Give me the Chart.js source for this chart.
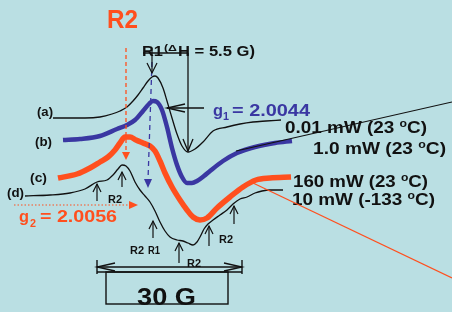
<!DOCTYPE html>
<html>
<head>
<meta charset="utf-8">
<script src="https://cdn.jsdelivr.net/npm/chart.js@4.4.0/dist/chart.umd.min.js"></script>
<style>
  body { margin: 0; background: #badfe3; }
  canvas { display: block; }
</style>
</head>
<body>
<canvas id="epr" width="452" height="312"></canvas>
<script>
// EPR derivative spectra (field position, signal in figure units)
const fieldA = [53, 70, 85, 100, 112, 120, 127, 133, 138, 143, 148, 152, 155, 158, 163, 167, 172, 177, 182, 188, 195, 203, 213, 227, 240, 253, 266, 281];
const signalA = [118, 118, 118, 117, 114, 111, 107, 101, 95, 88, 81, 77, 76, 78, 88, 101, 118, 134, 146, 152, 149, 142, 131, 127, 124, 122, 121, 120];

const fieldB = [63, 80, 100, 117, 127, 135, 143, 149, 153, 157, 162, 167, 172, 177, 182, 187, 192, 197, 204, 210, 223, 237, 255, 275, 292];
const signalB = [140, 139, 136, 129, 125, 120, 111, 104, 101, 102, 110, 127, 148, 165, 177, 183, 183, 181, 176, 171, 161, 153, 147, 143, 141];

const fieldC = [58, 77, 90, 100, 108, 115, 120, 125, 130, 136, 143, 150, 155, 160, 165, 172, 180, 187, 193, 200, 207, 217, 230, 243, 256, 270, 291];
const signalC = [178, 174, 168, 162, 157, 150, 143, 137, 137, 140, 143, 146, 151, 161, 173, 187, 200, 210, 217, 220, 218, 208, 197, 187, 180, 178, 177];

const fieldD = [25, 50, 70, 85, 97, 107, 113, 118, 122, 126, 130, 135, 140, 145, 150, 155, 160, 165, 170, 177, 183, 188, 193, 197, 200, 204, 208, 213, 220, 227, 233, 240, 247, 255, 262, 270, 283];
const signalD = [196, 195, 193, 189, 182, 180, 175, 169, 165, 166, 171, 182, 190, 196, 202, 211, 222, 231, 237, 240, 241, 243, 245, 242, 237, 229, 224, 220, 215, 210, 204, 199, 197, 193, 191, 190, 190];

const traceLabels = ["(a)", "(b)", "(c)", "(d)"];
const powerLabels = ["0.01 mW (23 ", "1.0 mW (23 ", "160 mW (23 ", "10 mW (-133 "];

const BLACK = "#111";
const BLUE = "#3a37a2";
const ORANGE = "#ff4f1e";
const FONT = '"Liberation Sans", Arial, sans-serif';

function pts(xs, ys) {
    return xs.map((x, i) => ({ x: x, y: ys[i] }));
}

const overlay = {
    id: "overlay",
    beforeDraw(chart) {
        const c = chart.ctx;
        c.save();
        c.fillStyle = "#badfe3";
        c.fillRect(0, 0, chart.width, chart.height);
        c.restore();
    },
    afterDatasetsDraw(chart) {
        const c = chart.ctx;
        const sx = chart.scales.x, sy = chart.scales.y;
        const X = v => sx.getPixelForValue(v);
        const Y = v => sy.getPixelForValue(v);

        function line(x1, y1, x2, y2, color, w, dash) {
            c.save();
            c.strokeStyle = color;
            c.lineWidth = w;
            c.setLineDash(dash || []);
            c.beginPath();
            c.moveTo(X(x1), Y(y1));
            c.lineTo(X(x2), Y(y2));
            c.stroke();
            c.restore();
        }
        // open "V" head at tip, pointing from (fx,fy) toward tip
        function vhead(tx, ty, fx, fy, len, half, color, w) {
            const a = Math.atan2(Y(ty) - Y(fy), X(tx) - X(fx));
            c.save();
            c.strokeStyle = color;
            c.lineWidth = w;
            c.beginPath();
            c.moveTo(X(tx) - len * Math.cos(a) - half * Math.sin(a), Y(ty) - len * Math.sin(a) + half * Math.cos(a));
            c.lineTo(X(tx), Y(ty));
            c.lineTo(X(tx) - len * Math.cos(a) + half * Math.sin(a), Y(ty) - len * Math.sin(a) - half * Math.cos(a));
            c.stroke();
            c.restore();
        }
        function fhead(tx, ty, fx, fy, len, half, color) {
            const a = Math.atan2(Y(ty) - Y(fy), X(tx) - X(fx));
            c.save();
            c.fillStyle = color;
            c.beginPath();
            c.moveTo(X(tx), Y(ty));
            c.lineTo(X(tx) - len * Math.cos(a) - half * Math.sin(a), Y(ty) - len * Math.sin(a) + half * Math.cos(a));
            c.lineTo(X(tx) - len * Math.cos(a) + half * Math.sin(a), Y(ty) - len * Math.sin(a) - half * Math.cos(a));
            c.closePath();
            c.fill();
            c.restore();
        }
        // parts: [text, size, raise]; squeezed / stretched to width w
        function rich(parts, x, y, w, color) {
            let total = 0;
            parts.forEach(p => {
                c.font = "bold " + p[1] + "px " + FONT;
                total += c.measureText(p[0]).width;
            });
            const k = w ? w / total : 1;
            c.save();
            c.translate(X(x), Y(y));
            c.scale(k, 1);
            c.fillStyle = color;
            let cx = 0;
            parts.forEach(p => {
                c.font = "bold " + p[1] + "px " + FONT;
                c.fillText(p[0], cx, p[2]);
                cx += c.measureText(p[0]).width;
            });
            c.restore();
        }

        // leader lines from traces to their power labels
        rich([[powerLabels[0], 17, 0], ["o", 11, -6], ["C)", 17, 0]], 285, 133, 142, BLACK);
        rich([[powerLabels[1], 17, 0], ["o", 11, -6], ["C)", 17, 0]], 313, 154, 133, BLACK);
        rich([[powerLabels[2], 17, 0], ["o", 11, -6], ["C)", 17, 0]], 293, 187, 135, BLACK);
        rich([[powerLabels[3], 17, 0], ["o", 11, -6], ["C)", 17, 0]], 292, 205, 143, BLACK);
        line(236, 151, 452, 102, BLACK, 1.2);
        line(253, 183, 452, 278, ORANGE, 1.2);

        // trace letters
        rich([[traceLabels[0], 13, 0]], 37, 116, 16, BLACK);
        rich([[traceLabels[1], 13, 0]], 35, 146, 17, BLACK);
        rich([[traceLabels[2], 13, 0]], 30, 182, 17, BLACK);
        rich([[traceLabels[3], 13, 0]], 7, 197, 17, BLACK);

        // R2 marker (orange dashed)
        rich([["R2", 25, 0]], 107, 28, 31, ORANGE);
        line(126, 48, 126, 152, ORANGE, 1.3, [4, 3]);
        fhead(126, 160, 126, 150, 8, 4, ORANGE);

        // R1 marker, blue dashed to trace (c)
        line(152, 62, 148, 180, BLUE, 1.3, [5, 4]);
        fhead(148, 188, 148, 178, 9, 4, BLUE);
        line(152, 50, 152, 73, BLACK, 1.2);
        vhead(152, 73, 152, 50, 10, 5, BLACK, 1.2);

        // linewidth bracket
        rich([["R1", 14, 0]], 142, 56, 21, BLACK);
        rich([["(\u0394", 9, 0]], 164, 51, 13, BLACK);
        rich([["H = 5.5 G)", 14, 0]], 178, 56, 77, BLACK);
        line(143, 53, 188, 53, BLACK, 1.3);
        line(188, 53, 188, 151, BLACK, 1.3);
        vhead(188, 151, 188, 53, 12, 5, BLACK, 1.3);

        // g1
        line(167, 108, 204, 108, BLACK, 1.3);
        vhead(167, 108, 204, 108, 18, 4, BLACK, 1.3);
        rich([["g", 16, 0]], 213, 116, 10, BLUE);
        rich([["1", 11, 0]], 223, 120, 6, BLUE);
        rich([["= 2.0044", 16, 0]], 232, 116, 78, BLUE);

        // g2
        line(14, 205, 130, 205, ORANGE, 1.2, [1.5, 2]);
        fhead(138, 205, 130, 205, 9, 4, ORANGE);
        rich([["g", 16, 0]], 19, 222, 10, ORANGE);
        rich([["2", 11, 0]], 30, 227, 6, ORANGE);
        rich([["= 2.0056", 16, 0]], 40, 222, 77, ORANGE);

        // hyperfine arrows on trace (d)
        [[97, 184, 201], [122, 172, 187], [153, 221, 238], [179, 243, 263], [209, 226, 246], [234, 206, 224]].forEach(a => {
            line(a[0], a[1], a[0], a[2], BLACK, 1.2);
            vhead(a[0], a[1], a[0], a[2], 8, 4, BLACK, 1.2);
        });
        rich([["R2", 11, 0]], 108, 203, 14, BLACK);
        rich([["R2", 11, 0]], 130, 254, 14, BLACK);
        rich([["R1", 11, 0]], 148, 254, 12, BLACK);
        rich([["R2", 11, 0]], 187, 267, 14, BLACK);
        rich([["R2", 11, 0]], 219, 243, 14, BLACK);

        // 30 G scale bar
        line(97, 267, 242, 267, BLACK, 1.3);
        vhead(97, 267, 242, 267, 18, 4, BLACK, 1.3);
        vhead(242, 267, 97, 267, 18, 4, BLACK, 1.3);
        line(97, 260, 97, 274, BLACK, 1.4);
        line(242, 260, 242, 274, BLACK, 1.4);
        line(97, 272, 242, 272, BLACK, 1.6);
        c.save();
        c.strokeStyle = BLACK;
        c.lineWidth = 1.4;
        c.strokeRect(X(106), Y(272), X(228) - X(106), Y(304) - Y(272));
        c.restore();
        rich([["30 G", 24, 0]], 137, 305, 59, BLACK);
    }
};

new Chart(document.getElementById("epr"), {
    type: "line",
    plugins: [overlay],
    data: {
        datasets: [
            { data: pts(fieldA, signalA), borderColor: BLACK, borderWidth: 1.3 },
            { data: pts(fieldB, signalB), borderColor: BLUE, borderWidth: 4.5 },
            { data: pts(fieldC, signalC), borderColor: ORANGE, borderWidth: 5.5 },
            { data: pts(fieldD, signalD), borderColor: BLACK, borderWidth: 1.3 }
        ]
    },
    options: {
        responsive: false,
        animation: false,
        layout: { padding: 0 },
        elements: {
            point: { radius: 0 },
            line: { tension: 0.4, cubicInterpolationMode: "monotone", borderCapStyle: "butt" }
        },
        plugins: {
            legend: { display: false },
            tooltip: { enabled: false }
        },
        scales: {
            x: { type: "linear", min: 0, max: 452, display: false },
            y: { type: "linear", min: 0, max: 312, reverse: true, display: false }
        }
    }
});
</script>
</body>
</html>
